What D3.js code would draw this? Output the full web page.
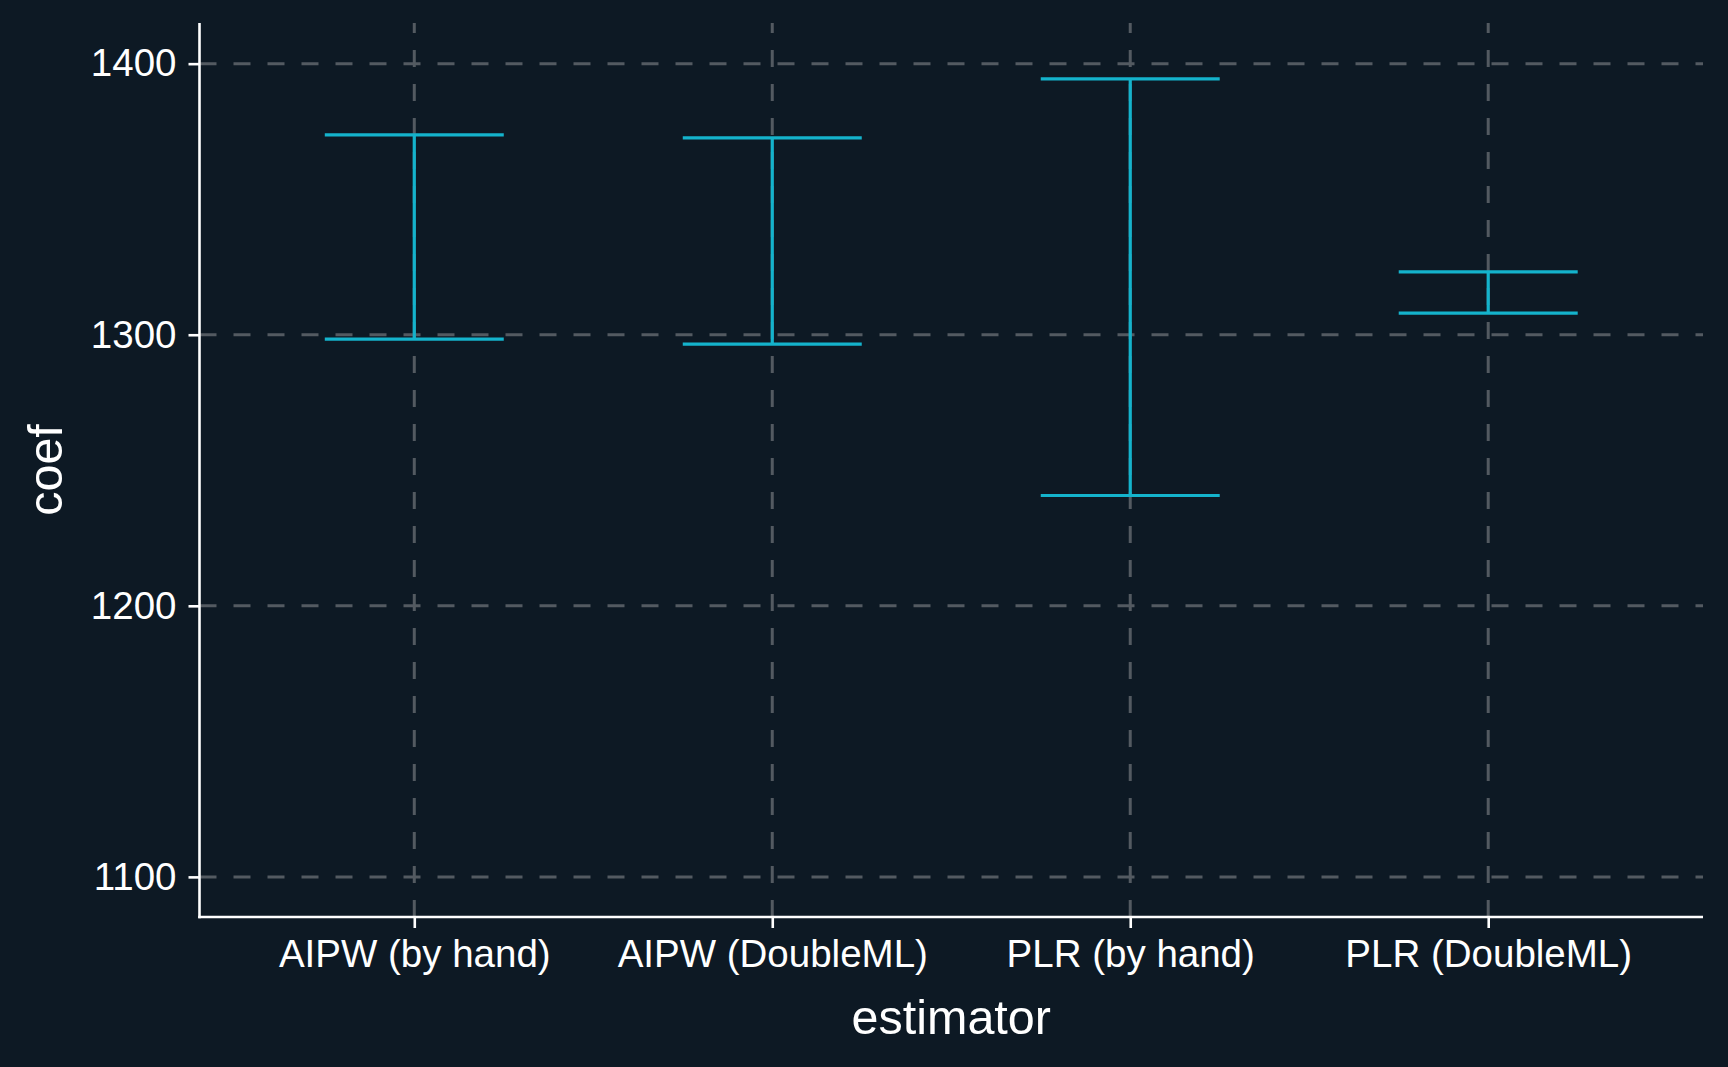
<!DOCTYPE html>
<html>
<head>
<meta charset="utf-8">
<script src="https://cdn.jsdelivr.net/npm/d3@7"></script>
<style>
  html, body { margin: 0; padding: 0; background: #0d1924; }
  svg { display: block; }
</style>
</head>
<body>
<script>
// ---- data ----
const categories = ["AIPW (by hand)", "AIPW (DoubleML)", "PLR (by hand)", "PLR (DoubleML)"];
const lower = [1298.4, 1296.5, 1240.7, 1308.0];
const upper = [1373.7, 1372.6, 1394.4, 1323.2];
const yTicks = [1100, 1200, 1300, 1400];
const xTitle = "estimator";
const yTitle = "coef";

// ---- layout ----
const W = 1728, H = 1067;
const pLeft = 199.5, pRight = 1703, pTop = 23, pBottom = 917;
const bg = "#0d1924", barColor = "#14b3cc", gridColor = "#535a61";
const font = "'Liberation Sans', Arial, Helvetica, sans-serif";

const svg = d3.select("body").append("svg").attr("width", W).attr("height", H);
svg.append("rect").attr("width", W).attr("height", H).attr("fill", bg);

const x = d3.scalePoint().domain(categories).range([pLeft, pRight]).padding(0.6);
const y = d3.scaleLinear().domain([1085.2, 1415]).range([pBottom, pTop]);
const half = x.step() * 0.25;

const data = categories.map((c, i) => ({ c, lo: lower[i], hi: upper[i] }));

// grid
const g = svg.append("g");
g.selectAll("line.hg").data(yTicks).join("line")
  .attr("x1", pLeft).attr("x2", pRight)
  .attr("y1", d => y(d)).attr("y2", d => y(d))
  .attr("stroke", gridColor).attr("stroke-width", 3).attr("stroke-dasharray", "17,17");
g.selectAll("line.vg").data(categories).join("line")
  .attr("x1", d => x(d)).attr("x2", d => x(d))
  .attr("y1", pBottom).attr("y2", pTop)
  .attr("stroke", gridColor).attr("stroke-width", 3).attr("stroke-dasharray", "17,17");

// error bars
const eb = svg.append("g").attr("stroke", barColor).attr("stroke-width", 3.2).attr("fill", "none");
eb.selectAll("path").data(data).join("path")
  .attr("d", d => {
    const cx = x(d.c), yl = y(d.lo), yh = y(d.hi);
    return `M${cx - half},${yh}H${cx + half}M${cx},${yh}V${yl}M${cx - half},${yl}H${cx + half}`;
  });

// axes
const yAxis = d3.axisLeft(y).tickValues(yTicks).tickSize(11).tickPadding(12).tickFormat(d3.format("d"));
const ya = svg.append("g").attr("transform", `translate(${pLeft},0)`).call(yAxis);
ya.select(".domain").remove();
ya.selectAll(".tick line").attr("stroke", "#ffffff").attr("stroke-width", 2.6);
ya.selectAll(".tick text").attr("fill", "#ffffff").style("font-family", font).style("font-size", "38.5px");

const xAxis = d3.axisBottom(x).tickSize(11).tickPadding(12);
const xa = svg.append("g").attr("transform", `translate(0,${pBottom})`).call(xAxis);
xa.select(".domain").remove();
xa.selectAll(".tick line").attr("stroke", "#ffffff").attr("stroke-width", 2.6);
xa.selectAll(".tick text").attr("fill", "#ffffff").style("font-family", font).style("font-size", "38.5px");

// axis lines
svg.append("line").attr("x1", pLeft).attr("x2", pLeft).attr("y1", pTop).attr("y2", pBottom + 1.3)
  .attr("stroke", "#ffffff").attr("stroke-width", 2.6);
svg.append("line").attr("x1", pLeft - 1.3).attr("x2", pRight).attr("y1", pBottom).attr("y2", pBottom)
  .attr("stroke", "#ffffff").attr("stroke-width", 2.6);

// titles
svg.append("text").attr("x", (pLeft + pRight) / 2).attr("y", 1034)
  .attr("text-anchor", "middle").attr("fill", "#ffffff")
  .style("font-family", font).style("font-size", "48.5px").text(xTitle);
svg.append("text").attr("transform", `translate(62,${(pTop + pBottom) / 2}) rotate(-90)`)
  .attr("text-anchor", "middle").attr("fill", "#ffffff")
  .style("font-family", font).style("font-size", "48.5px").text(yTitle);
</script>
</body>
</html>
